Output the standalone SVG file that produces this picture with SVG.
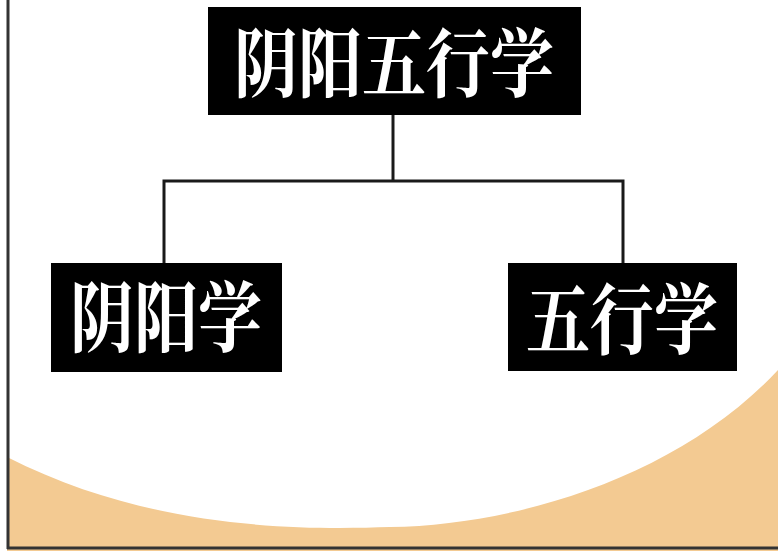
<svg xmlns="http://www.w3.org/2000/svg" width="778" height="551" viewBox="0 0 778 551">
<style>
.box{fill:#000}
.lbl{fill:#fff;font-family:"Noto Serif CJK SC","Noto Sans CJK SC",serif;font-size:64px;font-weight:700}
.ln{stroke:#1a1a1a;stroke-width:3;fill:none}
</style>
<rect x="0" y="0" width="778" height="551" fill="#fff"/>
<path d="M7,457 C150,530 300,530 390,527 C520,525 680,475 778,370 L778,551 L7,551 Z" fill="#F3CA92"/>
<line x1="8" y1="0" x2="8" y2="549" stroke="#333" stroke-width="3"/>
<line x1="7" y1="548" x2="778" y2="548" stroke="#333" stroke-width="3"/>
<g id="connectors">
<path class="ln" d="M393,115 V181"/>
<path class="ln" d="M164,263 V181 H623 V263"/>
</g>
<g id="root">
<rect class="box" x="208" y="7" width="373" height="108"/>
<text class="lbl" transform="translate(234,91) scale(1,1.18)">阴阳五行学</text>
</g>
<g id="yinyang">
<rect class="box" x="51" y="263" width="231" height="109"/>
<text class="lbl" transform="translate(70,346) scale(1,1.2)">阴阳学</text>
</g>
<g id="wuxing">
<rect class="box" x="508" y="263" width="229" height="108"/>
<text class="lbl" transform="translate(526,348) scale(1,1.2)">五行学</text>
</g>
</svg>
